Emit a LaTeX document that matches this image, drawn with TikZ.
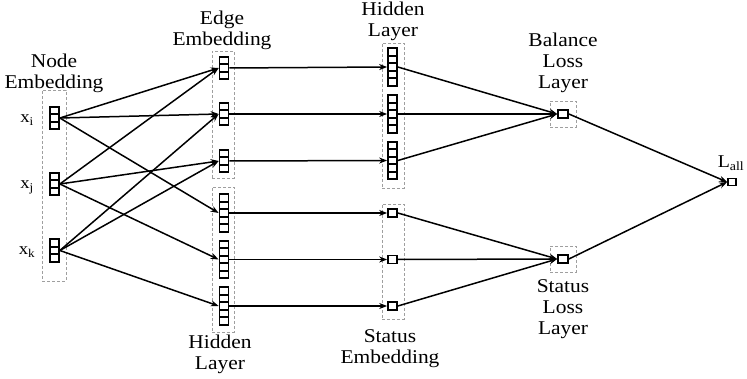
\documentclass[tikz,border=0pt]{standalone}
\usepackage{fontspec}
\setmainfont[FakeStretch=1.1]{Liberation Serif}
\usetikzlibrary{arrows.meta}

\tikzset{
  cellw/.style={line width=1.7pt},
  cell/.style={draw, cellw, inner sep=0pt, minimum width=9pt, minimum height=7.5pt},
  % a column of n unit cells, drawn as one node with inner dividers
  stack/.style={cell, minimum height=#1*7.5pt, path picture={
      \foreach \k in {1,...,\numexpr#1-1\relax}
        \draw[cellw] ([yshift=\k*7.5pt]path picture bounding box.south west)
                  -- ([yshift=\k*7.5pt]path picture bounding box.south east);}},
  losscell/.style={cell, minimum width=10pt, minimum height=8pt},
  group/.style={draw=gray!75, line width=0.8pt, dash pattern=on 3pt off 2pt,
      inner sep=0pt},
  lbl/.style={align=center, inner sep=0pt, anchor=north,
      font=\fontsize{19.5}{21}\selectfont},
  var/.style={inner sep=0pt, anchor=base, font=\fontsize{17}{19}\selectfont},
  conn/.style={line width=1.5pt, -{Stealth[length=8pt,width=6pt]}},
}

\begin{document}
\begin{tikzpicture}[x=1pt, y=-1pt]
\useasboundingbox (0,0) rectangle (747,379);

% dashed group frames
\node[group, minimum width=24pt, minimum height=191pt] (gnode)   at (54,185.5) {};
\node[group, minimum width=22pt, minimum height=127pt] (gedge)   at (223,114.5) {};
\node[group, minimum width=22pt, minimum height=145pt] (ghidlo)  at (223,259.5) {};
\node[group, minimum width=22pt, minimum height=145pt] (ghidup)  at (393,115.5) {};
\node[group, minimum width=22pt, minimum height=115pt] (gstatus) at (393,261.5) {};
\node[group, minimum width=26pt, minimum height=26pt]  (gbal)    at (563,114) {};
\node[group, minimum width=26pt, minimum height=26pt]  (gsloss)  at (563,259) {};

% node embeddings
\node[stack=3] (xi) at (54.5,118) {};
\node[stack=3] (xj) at (54.5,184) {};
\node[stack=3] (xk) at (54.5,250.5) {};

% edge embeddings
\node[stack=3] (e1) at (224,68) {};
\node[stack=3] (e2) at (224,114) {};
\node[stack=3] (e3) at (224,161) {};

% hidden layer under the edge embeddings
\node[stack=5] (l1) at (224,213) {};
\node[stack=5] (l2) at (224,259.5) {};
\node[stack=5] (l3) at (224,306) {};

% hidden layer after the edge embeddings
\node[stack=5] (u1) at (392.5,67) {};
\node[stack=5] (u2) at (392.5,114) {};
\node[stack=5] (u3) at (392.5,160.5) {};

% status embeddings
\node[cell, minimum height=8pt] (s1) at (392.5,213) {};
\node[cell, minimum height=8pt] (s2) at (392.5,259.5) {};
\node[cell, minimum height=8pt] (s3) at (392.5,306) {};

% loss layers
\node[losscell] (bal)   at (563,114) {};
\node[losscell] (sloss) at (563,259) {};
\node[cell, minimum width=8pt, minimum height=7pt] (lall) at (732,182) {};

% labels
\node[lbl] (tnode)   at (54,53.7)   {Node\\Embedding};
\node[lbl] (tedge)   at (222,10.7)  {Edge\\Embedding};
\node[lbl] (thidup)  at (393,1.7)   {Hidden\\Layer};
\node[lbl] (tbal)    at (563,32.7)  {Balance\\Loss\\Layer};
\node[lbl] (thidlo)  at (220,334.7) {Hidden\\Layer};
\node[lbl] (tstatus) at (390,329.7) {Status\\Embedding};
\node[lbl] (tsloss)  at (563,279.7) {Status\\Loss\\Layer};
\node[var, font=\fontsize{18}{20}\selectfont] (tlall) at (731,168) {L\textsubscript{all}};
\node[var] (txi) at (27,123) {x\textsubscript{i}};
\node[var] (txj) at (27,189) {x\textsubscript{j}};
\node[var] (txk) at (27,255) {x\textsubscript{k}};

% node embeddings -> edge embeddings and hidden layer
\draw[conn] (xi.east) -- (e1.west);
\draw[conn] (xi.east) -- (e2.west);
\draw[conn] (xi.east) -- (l1.west);
\draw[conn] (xj.east) -- (e1.west);
\draw[conn] (xj.east) -- (e3.west);
\draw[conn] (xj.east) -- (l2.west);
\draw[conn] (xk.east) -- (e2.west);
\draw[conn] (xk.east) -- (e3.west);
\draw[conn] (xk.east) -- (l3.west);

% edge embeddings -> hidden layer
\draw[conn] (e1.east) -- (u1.west);
\draw[conn] (e2.east) -- (u2.west);
\draw[conn] (e3.east) -- (u3.west);

% hidden layer -> status embeddings
\draw[conn] (l1.east) -- (s1.west);
\draw[conn] (l2.east) -- (s2.west);
\draw[conn] (l3.east) -- (s3.west);

% into the loss layers
\draw[conn] (u1.east) -- (bal.west);
\draw[conn] (u2.east) -- (bal.west);
\draw[conn] (u3.east) -- (bal.west);
\draw[conn] (s1.east) -- (sloss.west);
\draw[conn] (s2.east) -- (sloss.west);
\draw[conn] (s3.east) -- (sloss.west);

% total loss
\draw[conn] (bal.east) -- (lall.west);
\draw[conn] (sloss.east) -- (lall.west);
\end{tikzpicture}
\end{document}
